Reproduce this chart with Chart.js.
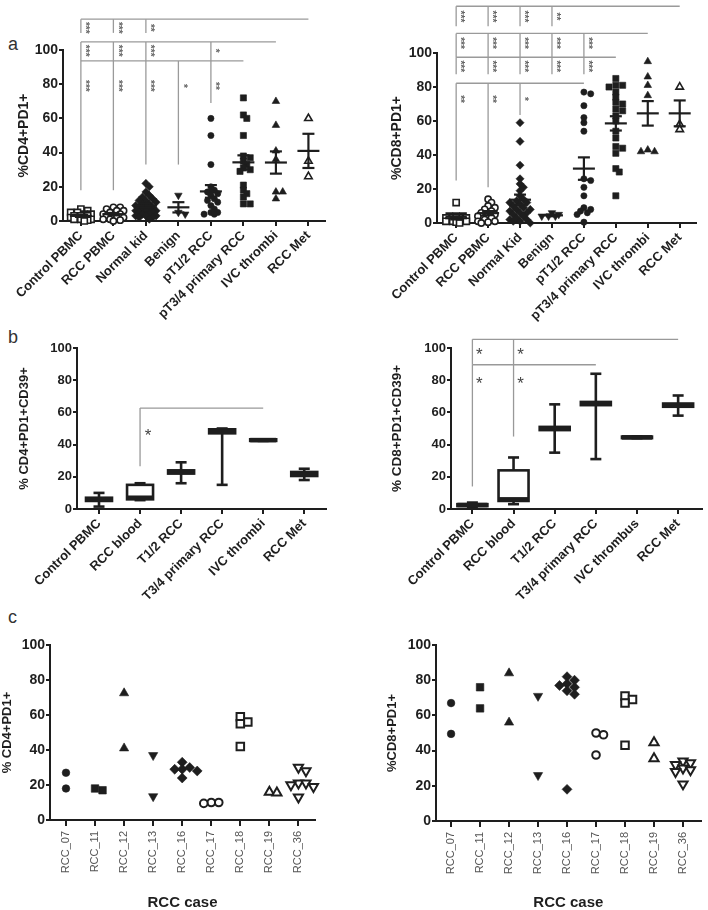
<!DOCTYPE html>
<html><head><meta charset="utf-8">
<script src="https://cdn.jsdelivr.net/npm/chart.js@4.4.1/dist/chart.umd.min.js"></script>
<style>
html,body{margin:0;padding:0;background:#fff}
body{width:708px;height:910px;position:relative;overflow:hidden}
canvas{position:absolute}
.pl{position:absolute;font-family:"Liberation Sans",Arial,sans-serif;font-size:18px;line-height:1;color:#333}
</style></head><body>
<div class="pl" style="left:8px;top:35px">a</div>
<div class="pl" style="left:8px;top:328px">b</div>
<div class="pl" style="left:8px;top:608px">c</div>
<canvas id="a1" width="354" height="335" style="left:0;top:0"></canvas>
<canvas id="a2" width="354" height="335" style="left:354px;top:0"></canvas>
<canvas id="b1" width="354" height="280" style="left:0;top:335px"></canvas>
<canvas id="b2" width="354" height="280" style="left:354px;top:335px"></canvas>
<canvas id="c1" width="354" height="295" style="left:0;top:615px"></canvas>
<canvas id="c2" width="354" height="295" style="left:354px;top:615px"></canvas>
<script>
// ---------------- DATA ----------------
// Panel a: categories
const groupsCD4 = ['Control PBMC','RCC PBMC','Normal kid','Benign','pT1/2 RCC','pT3/4 primary RCC','IVC thrombi','RCC Met'];
const groupsCD8 = ['Control PBMC','RCC PBMC','Normal Kid','Benign','pT1/2 RCC','pT3/4 primary RCC','IVC thrombi','RCC Met'];
// Panel a left: %CD4+PD1+ per group
const cd4ControlPBMC = [7,6,5,5,4,4,3,3,3,2,2,2,1,1,1,0.5,0];
const cd4RccPBMC = [8,8,7,6,6,5,4,4,3,3,2,2,1,1,0.5,0];
const cd4NormalKid = [22,20,17,15,14,13,12,12,11,10,10,9,9,8,8,7,7,6,6,6,5,5,4,4,3,3,3,2,2,1];
const cd4Benign = [15,5,4];
const cd4PT12 = [60,50,33,20,18,17,16,15,13,12,11,9,7,5,5,4,4];
const cd4PT34 = [72,62,60,50,38,37,35,33,31,30,29,21,18,16,14,10,10];
const cd4IVC = [70,56,41,36,17,17,13];
const cd4Met = [60,35,26];
const cd4Mean = [3,4,9,8,17.3,34.3,34.2,41];
const cd4Sem = [0.6,0.7,1.2,3,3.7,4.1,6.5,10];
// Panel a right: %CD8+PD1+ per group
const cd8ControlPBMC = [12,4,4,4,3,3,3,3,3,2,2,2,2,1,1,1,0.5,0];
const cd8RccPBMC = [14,12,10,9,8,7,6,5,5,4,3,2,1,1,0.5,0];
const cd8NormalKid = [59,48,34,26,23,21,19,16,14,13,12,12,11,10,9,8,8,7,6,6,5,4,3,2,2,1,1,0];
const cd8Benign = [6,5,4,4,4];
const cd8PT12 = [77,76,69,62,59,54,26,25,21,16,9,8,7,6,5,0.5];
const cd8PT34 = [85,81,81,80,77,74,71,70,67,66,63,60,54,50,45,44,41,32,30,16];
const cd8IVC = [95,86,81,75,43,42,42];
const cd8Met = [80,58,55];
const cd8Mean = [2.8,5.8,13.7,4.5,32,58.6,64.5,64.5];
const cd8Sem = [0.7,1.2,3,0.5,6.6,4.2,7.2,7.6];
// significance brackets (level, compared groups, stars, end of drop line)
const sigCD4 = [
  {level:118, from:0, to:7, star:113, marks:[[0,'***',110],[1,'***',110],[2,'**',110]]},
  {level:104.7, from:0, to:6, star:99.6, marks:[[0,'***',93.6],[1,'***',93.6],[2,'***',93.6],[4,'*',93.6]]},
  {level:93.6, from:0, to:5, star:79, marks:[[0,'***',18],[1,'***',18],[2,'***',33],[3,'*',33],[4,'**',69]]}
];
const sigCD8 = [
  {level:127.5, from:0, to:7, star:121.5, marks:[[0,'***',115.7],[1,'***',115.7],[2,'***',115.7],[3,'**',115.7]]},
  {level:111.5, from:0, to:6, star:105.9, marks:[[0,'***',97.5],[1,'***',97.5],[2,'***',97.5],[3,'***',97.5],[4,'***',97.5]]},
  {level:97.5, from:0, to:5, star:92.2, marks:[[0,'***',87.5],[1,'***',87.5],[2,'***',87.5],[3,'***',87.5],[4,'***',87.5]]},
  {level:82.2, from:0, to:4, star:72.9, marks:[[0,'**',25],[1,'**',21],[2,'*',63.5]]}
];
// Panel b: box plots (min, Q1, median, Q3, max)
const groupsB4 = ['Control PBMC','RCC blood','T1/2 RCC','T3/4 primary RCC','IVC thrombi','RCC Met'];
const groupsB8 = ['Control PBMC','RCC blood','T1/2 RCC','T3/4 primary RCC','IVC thrombus','RCC Met'];
const cd39cd4Min = [1.5,5.5,16,15,42.3,18];
const cd39cd4Q1 = [5,6,22,47,42.3,20.5];
const cd39cd4Median = [6,7,23,48,42.8,21.5];
const cd39cd4Q3 = [7,15,24,49.5,43.3,23];
const cd39cd4Max = [10,16,29,50,43.3,25];
const cd39cd8Min = [0.5,3,35,31,44,58];
const cd39cd8Q1 = [1.8,5,49,64.5,44,63.5];
const cd39cd8Median = [2.5,6,50,65.5,44.5,64.5];
const cd39cd8Q3 = [3,24,51,66.5,45,65.5];
const cd39cd8Max = [4,32,65,84,45,70.5];
const sigB4 = [{level:62.7, from:1, to:4, star:47, marks:[[1,'*',26.5]]}];
const sigB8 = [
  {level:105.4, from:0, to:5, star:97.5, marks:[[0,'*',89.6],[1,'*',89.6]]},
  {level:89.6, from:0, to:3, star:79.5, marks:[[0,'*',14],[1,'*',45]]}
];
// Panel c: per RCC case
const rccCases = ['RCC_07','RCC_11','RCC_12','RCC_13','RCC_16','RCC_17','RCC_18','RCC_19','RCC_36'];
const caseCD4 = [[27,18],[18,17],[72.5,41],[37,13.5],[33,30,29,29,28,24],[10,10,9.5],[59,56,55,42],[16,15.5],[30,28,21,21,20,19,13]];
const caseCD8 = [[67,49.5],[76,64],[84,56],[71,26],[82,80,78,77,76,74,72,18],[50,49,37.5],[71,69,67,43],[44.5,35.5],[34,33,32,30,29,28,21]];

// ---------------- STYLE / HELPERS ----------------
const FONT = '"Liberation Sans", Arial, sans-serif';
const INK = '#1e1e1e';
const styleA = [
  {shape:'rect', open:true},{shape:'circle', open:true},{shape:'rectRot'},{shape:'triangle', rot:180},
  {shape:'circle'},{shape:'rect'},{shape:'triangle'},{shape:'triangle', open:true}
];
const styleC = [
  {shape:'circle'},{shape:'rect'},{shape:'triangle'},{shape:'triangle', rot:180},{shape:'rectRot'},
  {shape:'circle', open:true},{shape:'rect', open:true},{shape:'triangle', open:true},{shape:'triangle', rot:180, open:true}
];
const SHAPE_MULT = {circle:1, rect:1.4, rectRot:1.3, triangle:1.4};

// deterministic beeswarm layout of one group's values
function swarm(vals, idx, g) {
  const placed = [];
  vals.slice().sort((a,b)=>b-a).forEach(v => {
    let best = 0, bestD = -1;
    for (let k = 0; k <= 2*g.maxOff; k++) {
      const off = k === 0 ? 0 : (k % 2 ? 1 : -1) * Math.ceil(k/2);
      let d = Infinity;
      placed.forEach(p => { d = Math.min(d, Math.hypot((p.off-off)*g.stepPx, (p.v-v)*g.unitPx)); });
      if (d >= g.gapPx) { best = off; bestD = d; break; }
      if (d > bestD) { bestD = d; best = off; }
    }
    placed.push({v, off:best});
  });
  return placed.map(p => ({x: idx + p.off*g.stepPx/g.catPx, y: p.v}));
}
function pointSets(groups, styles, g) {
  return groups.map((vals, i) => {
    const st = styles[i];
    const r = g.r * SHAPE_MULT[st.shape];
    return {
      data: swarm(vals, i, g),
      pointStyle: st.shape, pointRotation: st.rot || 0,
      pointRadius: r, pointHoverRadius: r,
      pointBackgroundColor: st.open ? '#fff' : INK,
      pointBorderColor: INK, pointBorderWidth: st.open ? g.openBorder : 0.6,
      clip: false
    };
  });
}
function seg(ctx, x1, y1, x2, y2) { ctx.beginPath(); ctx.moveTo(x1, y1); ctx.lineTo(x2, y2); ctx.stroke(); }

function drawMeanSem(chart, means, sems, halfW, capW) {
  const {ctx, scales:{x, y}} = chart;
  ctx.save(); ctx.strokeStyle = INK; ctx.lineWidth = 2.2;
  means.forEach((m, i) => {
    const cx = x.getPixelForValue(i);
    const ym = y.getPixelForValue(m), yt = y.getPixelForValue(m + sems[i]), yb = y.getPixelForValue(m - sems[i]);
    seg(ctx, cx-halfW, ym, cx+halfW, ym);
    seg(ctx, cx, yt, cx, yb);
    seg(ctx, cx-capW, yt, cx+capW, yt);
    seg(ctx, cx-capW, yb, cx+capW, yb);
  });
  ctx.restore();
}
function drawBrackets(chart, brackets, o) {
  const {ctx, scales:{x, y}} = chart;
  ctx.save(); ctx.strokeStyle = o.color; ctx.lineWidth = o.lw; ctx.fillStyle = o.textColor;
  ctx.font = o.font; ctx.textAlign = 'center'; ctx.textBaseline = 'middle';
  brackets.forEach(b => {
    const yl = y.getPixelForValue(b.level);
    seg(ctx, x.getPixelForValue(b.from), yl, x.getPixelForValue(b.to), yl);
    const sy = y.getPixelForValue(b.star);
    b.marks.forEach(([gi, txt, end]) => {
      const gx = x.getPixelForValue(gi);
      seg(ctx, gx, yl, gx, y.getPixelForValue(end));
      if (o.rotate) {
        ctx.save(); ctx.translate(gx + o.dx, sy); ctx.rotate(Math.PI/2); ctx.fillText(txt, 0, 0); ctx.restore();
      } else {
        ctx.fillText(txt, gx + o.dx, sy + o.dy);
      }
    });
  });
  ctx.restore();
}
function drawBoxes(chart, mins, q1s, meds, q3s, maxs, boxHalf, capHalf) {
  const {ctx, scales:{x, y}} = chart;
  ctx.save(); ctx.strokeStyle = INK; ctx.lineCap = 'butt';
  mins.forEach((_, i) => {
    const cx = x.getPixelForValue(i);
    const pMin = y.getPixelForValue(mins[i]), pQ1 = y.getPixelForValue(q1s[i]);
    const pMed = y.getPixelForValue(meds[i]), pQ3 = y.getPixelForValue(q3s[i]), pMax = y.getPixelForValue(maxs[i]);
    ctx.lineWidth = 2.6;
    seg(ctx, cx, pMax, cx, pQ3); seg(ctx, cx, pQ1, cx, pMin);
    seg(ctx, cx-capHalf, pMax, cx+capHalf, pMax); seg(ctx, cx-capHalf, pMin, cx+capHalf, pMin);
    ctx.fillStyle = '#fff';
    ctx.fillRect(cx-boxHalf, pQ3, 2*boxHalf, pQ1-pQ3);
    ctx.strokeRect(cx-boxHalf, pQ3, 2*boxHalf, pQ1-pQ3);
    ctx.lineWidth = 4.5;
    seg(ctx, cx-boxHalf, pMed, cx+boxHalf, pMed);
  });
  ctx.restore();
}

function options(o) {
  return {
    responsive:false, animation:false,
    layout:{padding:{left:0, top:o.padTop, right:o.padRight, bottom:0}},
    plugins:{legend:{display:false}, tooltip:{enabled:false}},
    scales:{
      x:{type:'linear', min:o.xmin, max:o.xmax,
        afterBuildTicks: s => { s.ticks = o.labels.map((_, i) => ({value:i})); },
        afterFit: s => { s.height = o.xHeight; },
        ticks:{autoSkip:false, minRotation:o.rot, maxRotation:o.rot, callback: v => o.labels[v],
               color:o.xColor, font:{family:FONT, size:o.xSize, weight:o.xWeight}, padding:o.xPad},
        grid:{drawOnChartArea:false, drawTicks:true, tickLength:o.xTick, color:INK, lineWidth:2},
        border:{color:INK, width:2},
        title: o.xTitle ? {display:true, text:o.xTitle, color:INK, font:{family:FONT, size:15, weight:'bold', lineHeight:1}, padding:0} : {display:false}
      },
      y:{min:0, max:100,
        afterFit: s => { s.width = o.yWidth; },
        ticks:{stepSize:20, color:INK, font:{family:FONT, size:o.ySize, weight:'bold'}, padding:1},
        grid:{drawOnChartArea:false, drawTicks:true, tickLength:4, color:INK, lineWidth:2},
        border:{color:INK, width:2},
        title:{display:true, text:o.yTitle, color:INK, font:{family:FONT, size:o.yTitleSize, weight:'bold'}, padding:{top:o.yTitlePad, bottom:0}}
      }
    }
  };
}

// ---------------- PANEL a ----------------
new Chart(document.getElementById('a1'), {
  type:'scatter',
  data:{datasets: pointSets([cd4ControlPBMC,cd4RccPBMC,cd4NormalKid,cd4Benign,cd4PT12,cd4PT34,cd4IVC,cd4Met], styleA,
        {unitPx:1.71, catPx:32.47, stepPx:3.4, gapPx:4.4, maxOff:3, r:3.1, openBorder:1.6})},
  options: options({labels:groupsCD4, padTop:50, padRight:29, xmin:-0.55, xmax:7.51, xHeight:114, yWidth:63,
    rot:45, xColor:INK, xSize:13, xWeight:'bold', xPad:2, xTick:5, ySize:14,
    yTitle:'%CD4+PD1+', yTitleSize:14, yTitlePad:16}),
  plugins:[{id:'ex', afterDraw: c => {
    drawMeanSem(c, cd4Mean, cd4Sem, 11, 6);
    drawBrackets(c, sigCD4, {color:'#9a9a9a', lw:1.3, textColor:'#666', font:'bold 10px '+FONT, rotate:true, dx:4});
  }}]
});
new Chart(document.getElementById('a2'), {
  type:'scatter',
  data:{datasets: pointSets([cd8ControlPBMC,cd8RccPBMC,cd8NormalKid,cd8Benign,cd8PT12,cd8PT34,cd8IVC,cd8Met], styleA,
        {unitPx:1.706, catPx:31.9, stepPx:3.4, gapPx:4.4, maxOff:3, r:3.1, openBorder:1.6})},
  options: options({labels:groupsCD8, padTop:53, padRight:12, xmin:-0.6, xmax:7.51, xHeight:112, yWidth:83,
    rot:45, xColor:INK, xSize:13, xWeight:'bold', xPad:2, xTick:5, ySize:14,
    yTitle:'%CD8+PD1+', yTitleSize:14, yTitlePad:35}),
  plugins:[{id:'ex', afterDraw: c => {
    drawMeanSem(c, cd8Mean, cd8Sem, 11, 6);
    drawBrackets(c, sigCD8, {color:'#9a9a9a', lw:1.3, textColor:'#666', font:'bold 10px '+FONT, rotate:true, dx:4});
  }}]
});

// ---------------- PANEL b ----------------
new Chart(document.getElementById('b1'), {
  type:'scatter',
  data:{datasets:[]},
  options: options({labels:groupsB4, padTop:13, padRight:28, xmin:-0.536, xmax:5.53, xHeight:106, yWidth:77,
    rot:45, xColor:INK, xSize:13, xWeight:'bold', xPad:2, xTick:5, ySize:13,
    yTitle:'% CD4+PD1+CD39+', yTitleSize:13, yTitlePad:17}),
  plugins:[{id:'ex', afterDraw: c => {
    drawBoxes(c, cd39cd4Min, cd39cd4Q1, cd39cd4Median, cd39cd4Q3, cd39cd4Max, 13, 5.5);
    drawBrackets(c, sigB4, {color:'#999', lw:1.3, textColor:'#444', font:'17px '+FONT, rotate:false, dx:8, dy:3});
  }}]
});
new Chart(document.getElementById('b2'), {
  type:'scatter',
  data:{datasets:[]},
  options: options({labels:groupsB8, padTop:13, padRight:6, xmin:-0.52, xmax:5.58, xHeight:106, yWidth:97,
    rot:45, xColor:INK, xSize:13, xWeight:'bold', xPad:2, xTick:5, ySize:13,
    yTitle:'% CD8+PD1+CD39+', yTitleSize:13.5, yTitlePad:35}),
  plugins:[{id:'ex', afterDraw: c => {
    drawBoxes(c, cd39cd8Min, cd39cd8Q1, cd39cd8Median, cd39cd8Q3, cd39cd8Max, 15, 5.5);
    drawBrackets(c, sigB8, {color:'#999', lw:1.3, textColor:'#444', font:'17px '+FONT, rotate:false, dx:7, dy:3});
  }}]
});

// ---------------- PANEL c ----------------
new Chart(document.getElementById('c1'), {
  type:'scatter',
  data:{datasets: pointSets(caseCD4, styleC, {unitPx:1.75, catPx:29.04, stepPx:7.5, gapPx:7, maxOff:2, r:3.8, openBorder:2})},
  options: options({labels:rccCases, padTop:30, padRight:39, xmin:-0.55, xmax:8.57, xHeight:90, yWidth:50,
    rot:90, xColor:'#555', xSize:11, xWeight:'normal', xPad:5, xTick:6, ySize:14,
    yTitle:'% CD4+PD1+', yTitleSize:13, yTitlePad:0, xTitle:'RCC case'})
});
new Chart(document.getElementById('c2'), {
  type:'scatter',
  data:{datasets: pointSets(caseCD8, styleC, {unitPx:1.76, catPx:29.04, stepPx:7.5, gapPx:7, maxOff:2, r:3.8, openBorder:2})},
  options: options({labels:rccCases, padTop:30, padRight:7, xmin:-0.52, xmax:8.61, xHeight:89, yWidth:82,
    rot:90, xColor:'#555', xSize:11, xWeight:'normal', xPad:5, xTick:6, ySize:14,
    yTitle:'%CD8+PD1+', yTitleSize:13, yTitlePad:31, xTitle:'RCC case'})
});
</script>
</body></html>
